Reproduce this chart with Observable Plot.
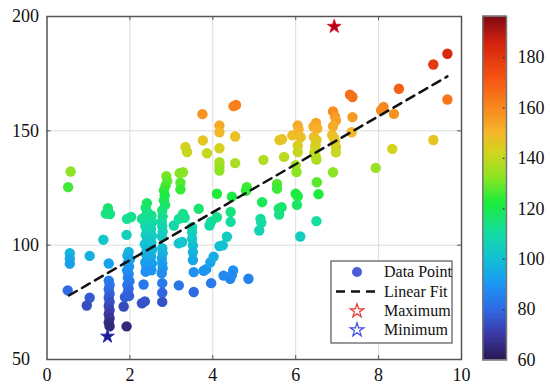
<!DOCTYPE html>
<html><head><meta charset="utf-8">
<script src="https://cdn.jsdelivr.net/npm/d3@7"></script>
<script src="https://cdn.jsdelivr.net/npm/@observablehq/plot@0.6"></script>
<style>
html,body{margin:0;padding:0;background:#fff;}
#chart{position:relative;width:550px;height:390px;}
#chart svg{position:absolute;top:0;}
</style></head><body><div id="chart"></div>
<script>
// ---- data ----
const pointX = [
 0.57,0.51,0.55,0.55,0.55,0.50,1.03,1.03,0.96,
 1.47,1.42,1.52,1.36,1.49,
 1.49,1.51,1.49,1.51,1.49,1.51,1.49,1.51,1.49,1.51,1.49,1.51,
 1.92,1.85,1.88,1.93,2.03,1.92,
 1.97,1.94,2.00,1.95,1.98,1.93,1.97,1.95,1.99,1.94,1.97,1.95,1.98,
 2.41,2.38,2.42,2.36,2.42,2.37,2.41,2.38,2.42,2.36,2.41,2.38,2.42,2.37,2.40,2.38,
 2.52,2.54,2.51,2.53,2.52,2.54,2.51,2.53,2.52,
 2.33,2.29,2.36,2.29,
 2.88,2.90,2.86,2.82,2.84,2.82,2.85,
 2.78,2.79,2.77,2.78,2.79,2.77,2.78,2.79,2.77,2.78,2.79,2.77,2.78,2.78,2.78,
 3.28,3.20,3.22,3.22,3.34,3.38,3.28,3.32,3.18,3.06,3.18,3.26,3.18,
 3.50,3.50,3.50,3.52,3.52,3.52,3.54,3.54,3.66,
 3.75,3.76,3.86,3.78,3.84,3.94,4.02,3.96,3.92,3.96,4.10,4.10,
 4.16,4.16,4.16,4.16,4.16,4.16,4.16,4.24,4.34,
 4.50,4.56,4.54,4.54,4.46,4.43,4.43,4.26,4.42,4.49,4.46,
 4.82,4.80,4.86,
 5.22,5.19,5.15,5.17,5.12,
 5.61,5.67,5.72,5.55,5.55,5.59,5.66,5.60,
 5.92,6.05,6.07,6.12,6.05,6.05,6.00,6.02,6.00,6.05,6.03,6.11,
 6.49,6.43,6.52,6.44,6.50,6.48,6.47,6.45,6.48,6.50,6.51,6.55,6.50,
 6.90,6.95,6.97,6.90,6.88,6.92,6.95,6.97,6.97,6.90,
 7.31,7.37,7.37,7.35,7.93,
 8.12,8.06,8.37,8.49,8.33,
 9.32,9.66,9.66,9.32
];
const pointY = [
 132.2,125.4,96.5,94.1,91.9,80.2,95.3,77.0,73.6,
 116.2,113.8,113.6,102.4,92.0,
 84.5,82.6,80.7,78.8,77.0,75.2,73.4,71.6,69.8,68.0,66.2,64.5,
 64.5,73.2,77.3,111.5,112.3,104.5,
 97.0,95.4,93.8,92.2,90.6,89.0,87.4,85.8,84.2,82.6,81.0,79.4,77.8,
 118.4,116.4,114.4,112.4,110.4,108.4,106.4,104.4,102.4,100.4,98.4,96.4,94.4,92.4,90.4,88.4,
 113.0,110.0,107.0,104.0,101.0,98.0,95.0,92.0,89.0,
 82.8,74.6,75.4,111.5,
 130.2,128.0,126.0,124.0,121.8,119.6,117.6,
 115.2,112.6,110.4,108.2,106.0,103.8,98.7,96.5,94.3,92.1,89.9,87.7,83.4,79.2,75.2,
 131.9,131.5,127.3,124.4,142.9,140.7,113.7,112.0,111.5,108.6,100.8,101.4,82.4,
 107.9,105.7,102.8,99.9,96.9,93.5,88.2,79.5,115.9,
 157.3,145.8,140.2,88.8,89.5,92.5,95.0,83.4,108.6,110.3,112.2,122.5,
 152.3,149.4,142.4,136.3,134.4,132.6,99.6,99.9,103.7,
 160.8,161.3,147.5,135.9,121.2,114.5,110.2,86.7,85.3,88.9,86.9,
 125.4,123.8,85.3,
 137.3,118.8,111.5,109.8,106.4,
 146.0,146.3,138.6,126.8,124.7,116.0,116.6,113.4,
 148.0,152.3,150.6,147.2,143.6,140.7,135.0,132.0,122.5,121.4,117.6,103.8,
 153.5,151.9,151.0,147.3,146.0,144.0,142.9,140.6,139.0,137.4,127.5,122.3,110.5,
 158.5,156.2,154.5,152.0,148.2,147.0,145.5,142.8,140.6,131.9,
 165.8,164.8,156.0,149.4,133.8,
 160.4,159.0,157.4,168.4,142.1,
 179.0,183.7,163.7,146.0
];
const maxPoint = [{x: 6.93, y: 195.6}];
const minPoint = [{x: 1.46, y: 60.1}];
const fitX = [0.53, 9.66];
const fitY = [78.0, 173.8];
const xTicks = [0, 2, 4, 6, 8, 10];
const yTicks = [50, 100, 150, 200];
const colorTicks = [60, 80, 100, 120, 140, 160, 180];
const colorDomain = [60, 196.4];
const legendLabels = ["Data Point", "Linear Fit", "Maximum", "Minimum"];
const cmapStops = [60, 70, 80, 90, 100, 110, 122, 132, 142, 150, 160, 172, 185, 196.4];
const cmapColors = ["#2b1a55","#3b3aa8","#2f6be6","#1b98f2","#12c2d2","#14dca2","#1cec3c",
  "#8ce424","#d2d41e","#f6b52a","#f8861e","#f45212","#d42410","#7c0812"];

// ---- layout ----
const W = 550, H = 390;
const mL = 46.5, mR = 89, mT = 16, mB = 31;
const plotW = W - mL - mR, plotH = H - mT - mB;
const font = '"Liberation Serif", "Times New Roman", serif';
const color = {type: "linear", domain: cmapStops, range: cmapColors, interpolate: "rgb"};
const points = pointX.map((x, i) => ({x, y: pointY[i]}));
const fit = fitX.map((x, i) => ({x, y: fitY[i]}));
const inner = xTicks.slice(1, -1), innerY = yTicks.slice(1, -1);
const starR = 4.3;

const main = Plot.plot({
  width: W, height: H, marginLeft: mL, marginRight: mR, marginTop: mT, marginBottom: mB,
  style: {fontFamily: font, fontSize: "18px", color: "#111", background: "transparent", overflow: "visible"},
  x: {domain: [0, 10], label: null},
  y: {domain: [50, 200], axis: null, label: null},
  color,
  marks: [
    Plot.ruleX(inner, {stroke: "#dcdcdc", strokeWidth: 1}),
    Plot.ruleY(innerY, {stroke: "#dcdcdc", strokeWidth: 1}),
    Plot.dot(points, {x: "x", y: "y", r: 5.2, fill: "y"}),
    Plot.line(fit, {x: "x", y: "y", stroke: "#111", strokeWidth: 2.5, strokeDasharray: "9,6"}),
    Plot.dot(maxPoint, {x: "x", y: "y", symbol: "star", r: starR, fill: "#b0001a", stroke: "#e01828", strokeWidth: 1}),
    Plot.dot(minPoint, {x: "x", y: "y", symbol: "star", r: starR, fill: "#1c1c8c", stroke: "#2a36c0", strokeWidth: 1}),
    Plot.tickX(inner, {x: d => d, insetTop: plotH - 4, stroke: "#555"}),
    Plot.tickX(inner, {x: d => d, insetBottom: plotH - 4, stroke: "#555"}),
    Plot.tickY(innerY, {y: d => d, insetLeft: plotW - 4, stroke: "#555"}),
    Plot.tickY(innerY, {y: d => d, insetRight: plotW - 4, stroke: "#555"}),
    Plot.frame({stroke: "#555", strokeWidth: 1.5}),
    Plot.axisX({ticks: xTicks, tickSize: 0, tickPadding: 9, fontSize: 18, label: null, tickFormat: d => String(d)}),
    Plot.text(yTicks, {y: d => d, frameAnchor: "left", dx: -35, textAnchor: "start", text: d => String(d), fontSize: 18, fill: "#111"})
  ]
});
main.style.left = "0px";

// legend (inside the plot area)
const svg = d3.select(main);
const lg = svg.append("g").attr("font-family", font).attr("font-size", 16).attr("text-anchor", "start");
lg.append("rect").attr("x", 331).attr("y", 261).attr("width", 121).attr("height", 82)
  .attr("fill", "#fff").attr("stroke", "#555").attr("stroke-width", 1.2);
const rowsY = [272, 291.5, 311, 330];
const symX = 357, txtX = 384;
lg.append("circle").attr("cx", symX).attr("cy", rowsY[0]).attr("r", 5).attr("fill", "#4a5cd6");
lg.append("line").attr("x1", 336).attr("x2", 379).attr("y1", rowsY[1]).attr("y2", rowsY[1])
  .attr("stroke", "#111").attr("stroke-width", 2.5).attr("stroke-dasharray", "9,6");
const star = d3.symbol(d3.symbolStar, Math.PI * starR * starR)();
lg.append("path").attr("d", star).attr("transform", `translate(${symX},${rowsY[2]})`)
  .attr("fill", "none").attr("stroke", "#e03a3a").attr("stroke-width", 1.2);
lg.append("path").attr("d", star).attr("transform", `translate(${symX},${rowsY[3]})`)
  .attr("fill", "none").attr("stroke", "#3a50e0").attr("stroke-width", 1.2);
legendLabels.forEach((t, i) => {
  lg.append("text").attr("x", txtX).attr("y", rowsY[i]).attr("dy", "0.34em")
    .attr("text-anchor", "start").attr("fill", "#111").text(t);
});

// colorbar
const cbW = 70, cbLeft = 480;
const step = 0.5;
const strips = d3.range(colorDomain[0], colorDomain[1], step);
const cb = Plot.plot({
  width: cbW, height: H, marginLeft: 2.3, marginRight: cbW - 26, marginTop: 15.7, marginBottom: H - 359.5,
  style: {fontFamily: font, fontSize: "18px", color: "#111", background: "transparent", overflow: "visible"},
  x: {domain: [0, 1], axis: null},
  y: {domain: colorDomain, axis: null},
  color,
  marks: [
    Plot.rect(strips, {x1: 0, x2: 1, y1: d => d, y2: d => Math.min(d + step * 1.6, colorDomain[1]), fill: d => d}),
    Plot.tickY(colorTicks.slice(1), {y: d => d, insetLeft: 20.5, insetRight: 1.5, stroke: "#333", strokeWidth: 1.2}),
    Plot.frame({stroke: "#777", strokeWidth: 1.5}),
    Plot.text(colorTicks, {y: d => d, frameAnchor: "right", dx: 11, textAnchor: "start", text: d => String(d), fontSize: 18, fill: "#111"})
  ]
});
cb.style.left = cbLeft + "px";

const root = document.getElementById("chart");
root.appendChild(main);
root.appendChild(cb);
</script></body></html>
